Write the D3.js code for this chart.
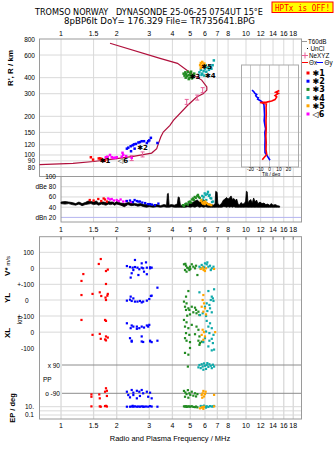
<!DOCTYPE html>
<html>
<head>
<meta charset="utf-8">
<script src="https://cdn.jsdelivr.net/npm/d3@7"></script>
<style>
  body { margin: 0; background: #fff; }
  svg { display: block; }
</style>
</head>
<body>
<svg id="chart" width="335" height="451"></svg>
<script>
// ---------- axis ticks ----------
const freqTicks = [1, 1.5, 2, 3, 4, 5, 6, 7, 8, 10, 12, 14, 16, 18];
const freqTickLabels = ["1", "1.5", "2", "3", "4", "5", "6", "7", "8", "10", "12", "14", "16", "18"];
const heightTicks = [800, 600, 400, 300, 200, 150, 120, 100, 90, 80];
const dbTicks = [100, 80, 60, 40, 20];
const dbTickLabels = ["100", "dBe 80", "60", "40", "dBn 20"];
const tiltTicks = [-20, -10, 0, 10, 20];
const tiltTickLabels = ["-20", "-10", "0", "10", "20"];

// ---------- echo groups ----------
const groupNames = ["✱1", "✱2", "✱3", "✱4", "✱5", "◁6"];
const groupColors = ["#ff0000", "#0000ff", "#228b22", "#10aaaa", "#ffa500", "#ff00ff"];

// virtual height echoes [MHz, km]
const echo1 = [[1.45,96],[1.49,92],[1.60,94],[1.63,94],[1.66,93],[1.71,91],[1.75,95],[1.78,96],[1.72,90]];
const echo2 = [[2.27,112],[2.31,114],[2.38,117],[2.44,119],[2.48,121],[2.54,122],[2.62,125],[2.67,126],[2.73,128],[2.81,128],[2.91,124],[2.96,128],[3.00,130],[3.06,136],[3.32,124],[2.39,107],[2.50,112]];
const echo3 = [[4.60,430],[4.65,415],[4.70,440],[4.75,425],[4.80,410],[4.85,445],[4.90,420],[4.95,400],[5.00,430],[5.05,415],[5.10,395],[5.15,420],[5.20,405],[4.72,400],[4.90,390],[5.05,445],[5.25,430]];
const echo4 = [[5.60,440],[5.70,460],[5.80,430],[5.90,450],[6.00,470],[6.10,445],[6.20,480],[6.30,460],[6.40,490],[6.50,470],[6.60,500],[5.75,420],[6.05,500],[6.70,545],[5.95,415]];
const echo5 = [[5.65,500],[5.70,520],[5.75,490],[5.80,530],[5.85,505],[5.90,485],[5.95,515],[6.00,495],[5.70,475]];
const echo6 = [[1.75,96],[1.78,97],[1.84,100],[1.88,96],[1.92,95],[1.96,95],[2.00,96],[2.13,97],[2.17,100],[2.15,104],[2.25,98],[2.41,95]];
const echoLabelPos = [[1.73,91],[2.76,116],[5.30,411],[6.41,422],[6.13,495],[2.16,92]];

// real-height profile [MHz, km] and electron density markers
const profile = [[0.765,84],[1.16,86],[1.50,89],[2.00,93.6],[2.46,97.5],[3.09,103.5],[3.29,112],[3.36,122.5],[3.46,138],[3.57,151],[3.88,170],[4.05,186],[4.84,244],[5.41,283],[5.89,301],[6.14,320],[6.14,339],[5.76,383],[5.19,419],[4.26,517],[3.43,565],[1.84,741]];
const neXYZ = [[2.41,94.6],[2.76,101],[4.78,259],[5.45,280],[5.83,320]];

// tilt profiles [deg, km]
const tiltX = [[-7.6,92],[-5,97],[-2.9,101],[-3.7,110],[-3.5,125],[-3.8,140],[-3.5,160],[-3.7,185],[-3.4,210],[-3.6,235],[-3.3,250],[-10,256],[-3,258],[2.3,263],[5.8,270],[7.6,283],[5.8,290],[9.3,302],[6.5,308],[10.3,318]];
const tiltY = [[-18.4,320],[-16.5,311],[-15.3,302],[-13.5,296],[-14.5,289],[-13.5,283],[-11.8,279],[-12.5,272],[-10,266],[-8.2,260],[-6.5,252],[-5.8,245],[-5.5,225],[-5.2,205],[-5.6,185],[-4.7,168],[-4.1,160],[-4.9,150],[-4.6,135],[-4.8,118],[-4.7,104],[-3,100],[-1.9,97],[0.5,91]];

// noise floor trace [MHz] with lower / upper level [dB]
const noiseFreq = [1.00,1.05,1.10,1.15,1.20,1.25,1.30,1.35,1.40,1.45,1.50,1.55,1.60,1.65,1.70,1.75,1.80,1.85,1.90,1.95,2.00,2.10,2.20,2.30,2.40,2.50,2.60,2.70,2.80,2.90,3.00,3.15,3.30,3.45,3.60,3.72,3.76,3.80,3.84,3.95,4.10,4.25,4.30,4.36,4.42,4.55,4.70,4.85,5.00,5.15,5.30,5.45,5.60,5.75,5.90,6.05,6.20,6.35,6.50,6.65,6.80,6.86,6.92,6.98,7.04,7.20,7.40,7.55,7.70,7.85,8.00,8.15,8.30,8.45,8.60,8.75,8.90,9.05,9.20,9.40,9.60,9.80,9.95,10.05,10.15,10.25,10.40,10.60,10.80,11.0,11.2,11.4,11.6,11.9,12.2,12.5,12.8,13.1,13.4,13.7,14.0,14.4,14.8,15.2];
const noiseLow  = [47,46,47,45,44,46,43,45,46,47,45,46,44,46,45,44,46,45,46,44,46,44,41,45,43,44,42,43,41,40,41,40,41,40,41,40,40,40,40,41,40,40,40,40,40,40,40,41,40,41,40,42,40,41,40,41,40,40,40,40,40,40,40,40,40,40,40,41,41,40,41,40,41,40,41,40,40,40,40,40,40,40,40,40,40,40,40,40,40,40,40,40,40,40,40,40,40,40,40,40,40,40,40,40];
const noiseHigh = [50,51,50,49,47,50,47,49,52,51,50,52,48,50,50,49,51,50,50,48,51,48,47,49,48,47,46,47,45,45,44,44,45,43,45,44,66,67,44,45,44,46,60,59,44,43,44,46,47,49,52,54,50,52,55,50,48,46,45,44,46,71,70,69,47,44,48,54,56,59,56,58,62,55,57,53,56,47,44,49,46,47,52,71,70,48,52,55,48,58,50,54,47,50,47,48,45,46,44,47,44,45,43,42];

// echo amplitudes [MHz, dB]
const amp1 = [[1.43,54],[1.50,53],[1.59,56],[1.65,52],[1.70,57],[1.73,55],[1.77,51]];
const amp2 = [[2.27,52],[2.36,53],[2.45,50],[2.50,54],[2.57,52],[2.62,51],[2.67,51],[2.75,49],[2.85,48],[2.95,46],[3.03,46],[3.10,45],[3.22,44],[3.36,47]];
const amp3 = [[4.56,44],[4.62,42],[4.70,46],[4.76,47],[4.85,45],[4.90,50],[4.97,51],[5.05,49],[5.10,55],[5.17,57],[5.22,54],[5.28,60],[5.35,58],[5.45,62],[5.50,64],[5.55,60],[5.62,58]];
const amp4 = [[5.80,62],[5.85,55],[5.90,60],[5.98,67],[6.05,64],[6.10,54],[6.18,66],[6.23,70],[6.30,62],[6.36,64],[6.42,58],[6.49,57],[6.55,50],[6.63,51]];
const amp5 = [[5.70,52],[5.74,54],[5.80,49],[5.86,47],[5.92,50],[5.98,46],[6.03,51],[6.10,48],[6.23,46],[6.35,45],[6.49,44]];
const amp6 = [[1.80,57],[1.84,55],[1.88,56],[1.93,53],[2.00,54],[2.05,52],[2.10,55],[2.17,51],[2.25,52],[2.40,50]];

// Doppler velocity V* [MHz, m/s]
const vStar1 = [[1.64,58],[1.60,27],[1.32,-36],[1.75,-17],[1.79,-8],[1.29,-79],[1.75,-98]];
const vStar2 = [[2.51,52],[2.27,14],[2.36,8],[2.44,4],[2.51,8],[2.59,4],[2.65,-6],[2.73,4],[2.78,0],[2.91,4],[3.03,6],[3.09,4],[2.88,37],[2.73,31],[2.41,-31],[2.38,-58],[2.62,-42],[2.91,-37],[3.03,0],[2.81,-21],[2.46,-11]];
const vStar3 = [[4.62,25],[4.74,16],[4.81,4],[4.68,-11],[4.88,0],[4.98,10],[5.09,25],[5.19,10],[5.30,0],[5.37,16],[5.46,-42],[4.77,-21],[4.94,-11],[4.70,28],[5.00,-4]];
const vStar4 = [[5.60,10],[5.76,21],[5.88,10],[6.00,31],[6.13,25],[6.26,10],[6.39,16],[6.53,0],[6.67,10],[6.18,37],[6.45,-11],[5.69,0],[5.95,5]];
const vStar5 = [[5.69,-4],[5.83,4],[5.93,-11],[6.00,-17],[6.08,0],[6.72,-4],[5.88,-8]];

// echolocation YL [MHz, km]
const yl1 = [[1.62,48],[1.48,38],[1.29,31],[1.65,25],[1.79,38],[1.78,27],[1.75,0],[1.74,15]];
const yl2 = [[3.32,77],[2.27,-4],[2.38,21],[2.41,-6],[2.51,-10],[2.59,-10],[2.67,-6],[2.73,-15],[2.78,-10],[2.91,-4],[3.00,6],[3.06,25],[3.09,27],[2.46,10],[2.36,2]];
const yl3 = [[4.88,56],[4.74,21],[4.62,-10],[4.77,-21],[4.68,-42],[4.88,-52],[4.74,-62],[4.94,-62],[5.09,-42],[5.30,-48],[5.37,-62],[5.40,-83],[4.98,-90],[4.81,-98],[5.19,-77],[5.53,-73],[5.60,-94]];
const yl4 = [[5.60,48],[6.26,56],[6.72,67],[6.53,21],[6.62,10],[6.45,0],[6.67,-6],[6.13,-21],[6.34,-31],[6.00,-42],[6.39,-52],[6.18,-69],[6.53,-77],[5.83,-83],[5.64,-94],[6.08,-100]];
const yl5 = [[5.88,31],[5.83,0],[5.93,-21],[5.76,-42],[6.00,-52],[5.88,-73],[6.08,-90]];

// echolocation XL [MHz, km]
const xl1 = [[1.29,77],[1.75,71],[1.73,77],[1.48,-17],[1.62,-11],[1.75,-27],[1.79,-34],[1.64,-42],[1.73,-46],[1.75,-52]];
const xl2 = [[2.27,56],[2.41,42],[2.46,35],[2.57,35],[2.65,25],[2.73,35],[2.81,29],[2.91,42],[2.96,35],[3.00,46],[2.36,-38],[2.41,-54],[2.73,-27],[2.73,-59],[3.03,-54],[3.09,-63],[3.32,-54],[2.38,25],[2.57,21],[2.41,-60],[2.78,-62],[3.03,-58]];
const xl3 = [[4.62,77],[4.77,62],[4.68,35],[4.88,25],[5.09,46],[5.40,35],[5.53,15],[4.74,-6],[4.94,-17],[5.30,-13],[5.60,-27],[4.77,-54],[4.98,-63],[5.53,-54],[5.64,-69],[4.68,-38],[4.68,-131],[4.88,-142],[4.98,-100],[5.76,-60],[5.60,-80]];
const xl4 = [[6.13,71],[6.39,56],[6.26,35],[6.53,25],[6.08,4],[6.34,-6],[6.67,-17],[6.00,-38],[6.53,-42],[6.34,-54],[6.62,-69],[5.88,-63],[6.26,-90],[6.53,-115],[6.72,-110]];
const xl5 = [[5.83,15],[5.93,0],[5.76,-17],[6.00,-27],[6.81,0],[5.88,-48]];

// polarization PP [MHz, deg]
const pp1 = [[1.46,-97],[1.61,-97],[1.73,-80],[1.77,-74],[1.75,-58],[1.62,-122],[1.77,-107],[1.46,-112]];
const pp2 = [[2.27,-80],[2.41,-69],[2.46,-86],[2.57,-74],[2.65,-80],[2.73,-69],[2.78,-90],[2.91,-80],[3.03,-86],[2.31,-101],[2.46,-101],[2.67,-107],[2.96,-112],[3.09,-122],[2.36,-116],[2.57,-122]];
const pp3 = [[4.62,-75],[4.70,-85],[4.77,-95],[4.85,-70],[4.94,-90],[5.00,-100],[5.09,-80],[5.19,-105],[5.30,-90],[5.37,-110],[4.68,-112],[4.88,-118],[5.46,-95],[4.85,80]];
const pp4 = [[5.53,75],[5.60,90],[5.69,70],[5.76,95],[5.83,80],[5.93,100],[6.00,85],[6.08,65],[6.13,90],[6.26,78],[6.34,95],[6.45,85],[6.53,70],[6.62,92],[6.72,80],[5.88,60],[6.18,102]];
const pp5 = [[5.76,-100],[5.83,-90],[5.88,-75],[5.93,-110],[6.00,-95],[6.05,-80],[6.72,-100],[5.80,-118]];

// polarization error EP [MHz, deg]
const ep1 = [[1.46,12],[1.62,12],[1.73,14],[1.77,11],[1.75,16],[1.64,10]];
const ep2 = [[2.27,10],[2.36,10],[2.41,11],[2.46,10],[2.51,12],[2.57,10],[2.62,11],[2.67,10],[2.73,12],[2.78,10],[2.88,11],[2.96,10],[3.03,14],[3.09,11],[2.44,16],[2.81,10],[3.32,10]];
const ep3 = [[4.62,12],[4.68,11],[4.74,13],[4.81,10],[4.88,12],[4.94,11],[5.00,10],[5.09,13],[5.19,9],[5.30,8],[5.37,11],[4.77,9],[5.46,7]];
const ep4 = [[5.69,15],[5.83,12],[5.93,18],[6.00,10],[6.13,13],[6.26,9],[6.39,14],[6.53,11],[6.62,12],[6.72,15],[6.08,6]];
const ep5 = [[5.64,4],[5.76,6],[5.83,8],[5.88,3],[5.93,10],[6.72,12]];

// ---------- scales ----------
const SANS = "'Liberation Sans', Arial, sans-serif";
const svg = d3.select("#chart");

const x = d3.scaleLog().domain([0.765, 19.95]).range([39.5, 301.5]);
const yH = d3.scaleLog().domain([68, 800]).range([176.5, 39]);
const xTilt = d3.scaleLinear().domain([-30, 30]).range([241, 298]);
const yDb = d3.scaleLinear().domain([11, 100]).range([222, 176.5]);
const yV = d3.scaleLinear().domain([-100, 100]).range([284.3, 252.3]);
const yYL = d3.scaleLinear().domain([-100, 100]).range([316, 284]);
const yXL = d3.scaleLinear().domain([-100, 100]).range([348, 316.3]);
const yPP = d3.scaleLinear().domain([-90, 90]).range([393.3, 365]);
const yEP = d3.scaleLog().domain([0.1, 10]).range([415, 406.7]);

const GRID = "#d9d9d9";
const FRAME = "#9a9a9a";

function hLine(g, x0, x1, y, color, w) {
  g.append("line").attr("x1", x0).attr("x2", x1).attr("y1", y).attr("y2", y)
    .attr("stroke", color).attr("stroke-width", w || 1);
}
function vLine(g, xx, y0, y1, color, w) {
  g.append("line").attr("x1", xx).attr("x2", xx).attr("y1", y0).attr("y2", y1)
    .attr("stroke", color).attr("stroke-width", w || 1);
}
function label(g, xx, yy, txt, size, anchor, opts) {
  const t = g.append("text").attr("x", xx).attr("y", yy).text(txt)
    .attr("font-family", (opts && opts.family) || SANS)
    .attr("font-size", size).attr("text-anchor", anchor || "start")
    .attr("fill", (opts && opts.fill) || "#000");
  if (opts && opts.weight) t.attr("font-weight", opts.weight);
  return t;
}
function squares(g, pts, xf, yf, color, s) {
  g.selectAll(null).data(pts).join("rect")
    .attr("x", d => xf(d[0]) - s / 2).attr("y", d => yf(d[1]) - s / 2)
    .attr("width", s).attr("height", s).attr("fill", color);
}

// ---------- header ----------
const head = svg.append("g");
label(head, 35, 15, "TROMSO NORWAY   DYNASONDE 25-06-25 0754UT 15°E", 8, "start", {family: "'DejaVu Sans', sans-serif"})
  .style("white-space", "pre").attr("textLength", 228).attr("lengthAdjust", "spacingAndGlyphs");
label(head, 64, 23.5, "8pBP6It DoY= 176.329 File= TR735641.BPG", 8, "start", {family: "'DejaVu Sans', sans-serif"})
  .attr("textLength", 191).attr("lengthAdjust", "spacingAndGlyphs");
head.append("rect").attr("x", 272).attr("y", 2).attr("width", 61).attr("height", 10.5)
  .attr("fill", "#ffff00").attr("stroke", "#ff0000").attr("stroke-width", 1);
label(head, 275, 10.5, "HPTx is OFF!", 8, "start", {family: "'DejaVu Sans Mono', monospace", fill: "#ff0000"})
  .attr("textLength", 55).attr("lengthAdjust", "spacingAndGlyphs");

// ---------- height panel ----------
const upper = svg.append("g");
const yTop = 39, yBot = 176.5;
freqTicks.forEach(f => vLine(upper, x(f), yTop, yBot, GRID));
heightTicks.slice(1).forEach(h => hLine(upper, 39.5, 301.5, yH(h), GRID));
upper.append("rect").attr("x", 39.5).attr("y", yTop).attr("width", 262).attr("height", yBot - yTop)
  .attr("fill", "none").attr("stroke", FRAME);
freqTicks.forEach((f, i) => label(upper, x(f), 36, freqTickLabels[i], 7, "middle"));
heightTicks.forEach(h => label(upper, 35, yH(h) + 2.5, String(h), 6.5, "end"));
label(upper, 0, 0, "R', R / km", 8, "middle", {weight: "bold"}).attr("transform", "translate(13,68) rotate(-90)");

// profile
upper.append("path").datum(profile)
  .attr("d", d3.line().x(d => x(d[0])).y(d => yH(d[1])))
  .attr("fill", "none").attr("stroke", "#b0103c").attr("stroke-width", 1.2);

// NeXYZ markers
const neG = upper.append("g").attr("stroke", "#e8609a").attr("stroke-width", 1).attr("fill", "none");
neXYZ.forEach(d => {
  const cx = x(d[0]), cy = yH(d[1]);
  neG.append("path").attr("d", `M${cx - 2},${cy - 2.5}H${cx + 2}M${cx},${cy - 2.5}V${cy + 2.5}M${cx - 2},${cy + 2.5}H${cx + 2}`);
});

// echoes
const echoes = [echo1, echo2, echo3, echo4, echo5, echo6];
const drawOrder = [0, 5, 1, 2, 3, 4];
drawOrder.forEach(i => squares(upper, echoes[i], x, yH, groupColors[i], 2.5));
echoLabelPos.forEach((p, i) => label(upper, x(p[0]), yH(p[1]) + 3, groupNames[i], 7, "middle",
  {family: "'DejaVu Sans', sans-serif", weight: "bold"}));

// tilt inset
const tilt = svg.append("g");
const tb = {x: 241.5, y: 65, w: 57, h: 102};
tilt.append("rect").attr("x", tb.x).attr("y", tb.y).attr("width", tb.w).attr("height", tb.h).attr("fill", "#fff");
heightTicks.forEach(h => { const yy = yH(h); if (yy > tb.y && yy < tb.y + tb.h) hLine(tilt, tb.x, tb.x + tb.w, yy, GRID); });
tiltTicks.forEach(t => vLine(tilt, xTilt(t), tb.y, tb.y + tb.h, "#c8c8c8"));
tilt.append("rect").attr("x", tb.x).attr("y", tb.y).attr("width", tb.w).attr("height", tb.h)
  .attr("fill", "none").attr("stroke", "#aaaaaa");
tiltTicks.forEach((t, i) => label(tilt, xTilt(t), 171.3, tiltTickLabels[i], 4.8, "middle"));
label(tilt, 271, 175.8, "Tilt / deg", 4.8, "middle");
const tiltLine = d3.line().x(d => xTilt(d[0])).y(d => yH(d[1]));
tilt.append("path").datum(tiltY).attr("d", tiltLine).attr("fill", "none").attr("stroke", "#0000ff").attr("stroke-width", 1.6);
tilt.append("path").datum(tiltX).attr("d", tiltLine).attr("fill", "none").attr("stroke", "#ff0000").attr("stroke-width", 1.6);

// legend
const leg = svg.append("g");
const LEG = 6.3;
hLine(leg, 302, 307, 41.5, "#999");
label(leg, 308, 43.8, "T60dB", LEG, "start");
leg.append("rect").attr("x", 307).attr("y", 48).attr("width", 1).attr("height", 1).attr("fill", "#000");
label(leg, 310.5, 50.6, "UnCl", LEG, "start");
leg.append("path").attr("d", "M302,55.5H308M305,52.5V58.5").attr("stroke", "#e8609a").attr("stroke-width", 1);
label(leg, 309, 57.6, "NeXYZ", LEG, "start");
hLine(leg, 302, 308, 62.5, "#ff0000");
label(leg, 309, 64.6, "Θx", LEG, "start");
hLine(leg, 316.5, 323, 62.5, "#0000ff");
label(leg, 324.5, 64.6, "Θy", LEG, "start");
groupNames.forEach((n, i) => {
  const yy = 73 + i * 8.2;
  leg.append("rect").attr("x", 306.5).attr("y", yy - 1.5).attr("width", 3).attr("height", 3).attr("fill", groupColors[i]);
  label(leg, 312.5, yy + 3, n, 8, "start", {family: "'DejaVu Sans', sans-serif", weight: "bold"});
});

// ---------- amplitude panel ----------
const amp = svg.append("g");
const ax0 = x(1), ax1 = 301.5;
freqTicks.slice(1).forEach(f => vLine(amp, x(f), yDb(100), yDb(11), GRID));
[80, 60, 40].forEach(v => hLine(amp, ax0, ax1, yDb(v), GRID));
hLine(amp, ax0, ax1, yDb(20), "#b4b4f0");
amp.append("rect").attr("x", ax0).attr("y", yDb(100)).attr("width", ax1 - ax0).attr("height", yDb(11) - yDb(100))
  .attr("fill", "none").attr("stroke", FRAME);
dbTicks.forEach((v, i) => label(amp, 56, yDb(v) + 2.5, dbTickLabels[i], 6.5, "end"));

const noise = noiseFreq.map((f, i) => [f, noiseLow[i], noiseHigh[i]]);
amp.append("path").datum(noise)
  .attr("d", d3.area().x(d => x(d[0])).y0(d => yDb(d[1])).y1(d => yDb(d[2])))
  .attr("fill", "#000").attr("stroke", "#000").attr("stroke-width", 0.8);
const amps = [amp1, amp2, amp3, amp4, amp5, amp6];
drawOrder.forEach(i => squares(amp, amps[i], x, yDb, groupColors[i], 2.3));

freqTicks.forEach((f, i) => label(svg, x(f), 232, freqTickLabels[i], 7, "middle"));

// ---------- echolocation / polarization panel ----------
const low = svg.append("g");
const lTop = 236.7, lBot = 419;
freqTicks.forEach(f => vLine(low, x(f), lTop, lBot, GRID, 1.3));
[yV(100), yV(0), yV(-100), yYL(0), yYL(-100), yXL(0), yEP(10), yEP(1), yEP(0.1)]
  .forEach(yy => hLine(low, 39.5, 301.5, yy, GRID));
hLine(low, x(1) + 1, 301.5, yPP(90), "#8c8c8c");
hLine(low, x(1) + 1, 301.5, yPP(-90), "#8c8c8c");
freqTicks.forEach(f => vLine(low, x(f), lTop, lTop + 3, "#777"));
low.append("rect").attr("x", 39.5).attr("y", lTop).attr("width", 262).attr("height", lBot - lTop)
  .attr("fill", "none").attr("stroke", FRAME);

// row labels
label(low, 34, yV(100) + 2.5, "100", 6.5, "end");
label(low, 34, yV(0) + 2.5, "0", 6.5, "end");
label(low, 34, yV(-100) + 2.5, "+-100", 6.5, "end");
label(low, 28.5, yYL(0) + 2.5, "0", 6.5, "end");
label(low, 34, yYL(-100) + 2.5, "+-100", 6.5, "end");
label(low, 34, yXL(0) + 2.5, "0", 6.5, "end");
label(low, 34, yXL(-100) + 2.5, "-100", 6.5, "end");
label(low, 60, yPP(90) + 2.5, "x 90", 6.5, "end");
label(low, 43, 381.5, "PP", 6.5, "start");
label(low, 60, yPP(-90) + 2.5, "o -90", 6.5, "end");
label(low, 34, yEP(10) + 2, "10.", 6.5, "end");
label(low, 34, yEP(0.1) + 2, "0.1", 6.5, "end");

const vt = label(low, 0, 0, "", 8, "middle", {weight: "bold"}).attr("transform", "translate(10,266) rotate(-90)");
vt.append("tspan").text("V*");
vt.append("tspan").attr("font-size", 6).attr("font-weight", "normal").text(" m/s");
label(low, 0, 0, "YL", 8, "middle", {weight: "bold"}).attr("transform", "translate(10,298) rotate(-90)");
label(low, 0, 0, "km", 6.5, "middle").attr("transform", "translate(22,320) rotate(-90)");
label(low, 0, 0, "XL", 8, "middle", {weight: "bold"}).attr("transform", "translate(10,333) rotate(-90)");
label(low, 0, 0, "EP / deg", 7.5, "middle", {weight: "bold"}).attr("transform", "translate(15,408) rotate(-90)");

const rows = [
  {scale: yV,  sets: [vStar1, vStar2, vStar3, vStar4, vStar5]},
  {scale: yYL, sets: [yl1, yl2, yl3, yl4, yl5]},
  {scale: yXL, sets: [xl1, xl2, xl3, xl4, xl5]},
  {scale: yPP, sets: [pp1, pp2, pp3, pp4, pp5]},
  {scale: yEP, sets: [ep1, ep2, ep3, ep4, ep5]}
];
rows.forEach(r => [0, 1, 2, 3, 4].forEach(i => squares(low, r.sets[i], x, r.scale, groupColors[i], 2.2)));

freqTicks.forEach((f, i) => label(svg, x(f), 427.5, freqTickLabels[i], 7, "middle"));
label(svg, 170, 441, "Radio and Plasma Frequency / MHz", 7.5, "middle");
</script>
</body>
</html>
